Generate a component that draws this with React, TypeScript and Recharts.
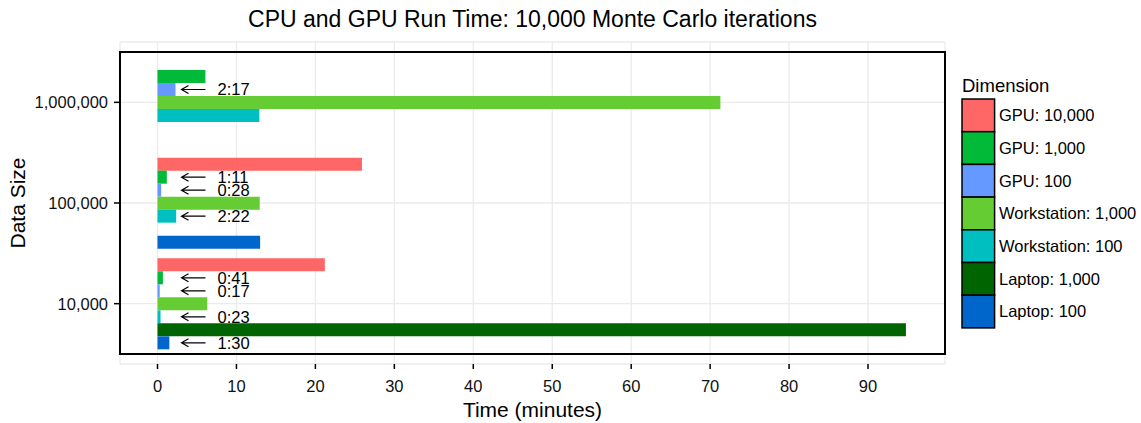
import React from 'react';
import {
  BarChart, Bar, XAxis, YAxis, CartesianGrid, ReferenceArea, LabelList,
} from 'recharts';

// data sizes, top to bottom
const sizes = ['1,000,000', '100,000', '10,000'];

// run time in minutes
const gpu10000 = [0, 25.9, 21.2];
const gpu1000 = [6.07, 1.183, 0.683];
const gpu100 = [2.283, 0.467, 0.283];
const ws1000 = [71.3, 12.95, 6.3];
const ws100 = [12.9, 2.367, 0.383];
const laptop1000 = [0, 0, 94.8];
const laptop100 = [0, 13.0, 1.5];

// annotated times (m:ss)
const gpu1000Labels = ['', '1:11', '0:41'];
const gpu100Labels = ['2:17', '0:28', '0:17'];
const ws100Labels = ['', '2:22', '0:23'];
const laptop100Labels = ['', '', '1:30'];

const timeTicks = [0, 10, 20, 30, 40, 50, 60, 70, 80, 90];

const FONT = '"Liberation Sans", Arial, Helvetica, sans-serif';

interface Series {
  key: string;
  name: string;
  color: string;
  values: number[];
  labels?: string[];
}

const series: Series[] = [
  { key: 'gpu10000', name: 'GPU: 10,000', color: '#FF6666', values: gpu10000 },
  { key: 'gpu1000', name: 'GPU: 1,000', color: '#00BA38', values: gpu1000, labels: gpu1000Labels },
  { key: 'gpu100', name: 'GPU: 100', color: '#6699FF', values: gpu100, labels: gpu100Labels },
  { key: 'ws1000', name: 'Workstation: 1,000', color: '#66CC33', values: ws1000 },
  { key: 'ws100', name: 'Workstation: 100', color: '#00BFC0', values: ws100, labels: ws100Labels },
  { key: 'laptop1000', name: 'Laptop: 1,000', color: '#006400', values: laptop1000 },
  { key: 'laptop100', name: 'Laptop: 100', color: '#0066CC', values: laptop100, labels: laptop100Labels },
];

const rows = sizes.map((size, i) => {
  const row: Record<string, string | number> = { size };
  series.forEach((s) => {
    row[s.key] = s.values[i];
    if (s.labels) row[s.key + 'Label'] = s.labels[i];
  });
  return row;
});

function ArrowLabel(props: any) {
  const { x, y, height, value } = props;
  if (!value) return null;
  const cy = y + height / 2;
  const x1 = x + 24;
  const x2 = x + 48;
  return (
    <g>
      <path
        d={`M${x1},${cy} L${x2},${cy} M${x1 + 7},${cy - 4} L${x1},${cy} L${x1 + 7},${cy + 4}`}
        stroke="#000" strokeWidth={1.2} fill="none"
      />
      <text x={x + 60} y={cy} dy="0.36em" fontSize={16.5} fill="#000" fontFamily={FONT}>
        {value}
      </text>
    </g>
  );
}

function YTitle(props: any) {
  const vb = props.viewBox || { y: 42, height: 322 };
  const cy = vb.y + vb.height / 2;
  return (
    <text x={17} y={cy} transform={`rotate(-90 17 ${cy})`} textAnchor="middle" dy="0.36em"
          fontSize={21} fill="#000" fontFamily={FONT}>
      Data Size
    </text>
  );
}

function DimensionLegend() {
  const rowH = 32.7;
  return (
    <svg width={185} height={270} style={{ position: 'absolute', left: 955, top: 70, fontFamily: FONT }}>
      <text x={7} y={22} fontSize={18.5} fill="#000">Dimension</text>
      {series.map((s, i) => (
        <g key={s.key}>
          <rect x={7} y={29 + i * rowH} width={32.6} height={rowH} fill={s.color}
                stroke="#000" strokeWidth={1.5} />
          <text x={44} y={29 + i * rowH + rowH / 2} dy="0.36em" fontSize={16.5} fill="#000">
            {s.name}
          </text>
        </g>
      ))}
    </svg>
  );
}

export default function App() {
  return (
    <div style={{ position: 'absolute', left: 0, top: 0, width: 1141, height: 423, fontFamily: FONT, background: '#fff' }}>
      <div style={{
        position: 'absolute', left: 120, top: 5, width: 825, textAlign: 'center',
        fontSize: 23, lineHeight: '28px', color: '#000',
      }}>
        CPU and GPU Run Time: 10,000 Monte Carlo iterations
      </div>
      <BarChart
        layout="vertical"
        width={1141}
        height={423}
        data={rows}
        margin={{ top: 42, right: 196, bottom: 0, left: 0 }}
        barGap={0}
        barSize={13}
      >
        <CartesianGrid stroke="#EBEBEB" strokeWidth={1.3} />
        <XAxis
          type="number"
          domain={[-4.75, 99.75]}
          ticks={timeTicks}
          allowDataOverflow
          height={59}
          axisLine={false}
          tickSize={5}
          tickMargin={11}
          tickLine={{ stroke: '#000', strokeWidth: 1.5 }}
          tick={{ fill: '#111', fontSize: 16.5, fontFamily: FONT }}
          label={{ value: 'Time (minutes)', position: 'insideBottom', offset: 6, fontSize: 21, fill: '#000', fontFamily: FONT }}
        />
        <YAxis
          type="category"
          dataKey="size"
          width={120}
          padding={{ top: 10, bottom: 10 }}
          axisLine={false}
          tickSize={6}
          tickMargin={6}
          tickLine={{ stroke: '#000', strokeWidth: 1.5 }}
          tick={{ fill: '#111', fontSize: 16.5, fontFamily: FONT }}
          label={<YTitle />}
        />
        {series.map((s) => (
          <Bar key={s.key} dataKey={s.key} name={s.name} fill={s.color} isAnimationActive={false}>
            {s.labels && <LabelList dataKey={s.key + 'Label'} content={<ArrowLabel />} />}
          </Bar>
        ))}
        <ReferenceArea x1={-4.75} x2={99.75} fill="none" stroke="#000" strokeWidth={2} ifOverflow="visible" />
      </BarChart>
      <DimensionLegend />
    </div>
  );
}
